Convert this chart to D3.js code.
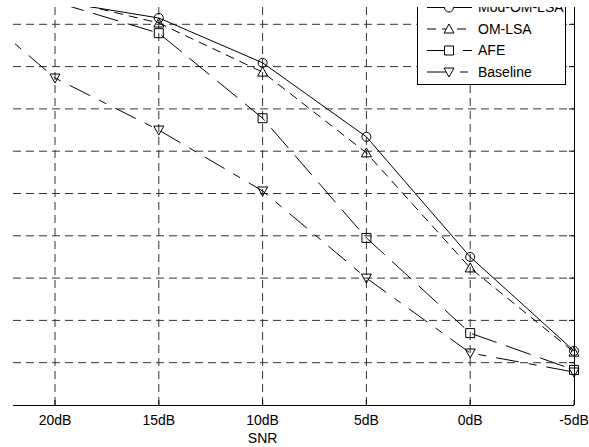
<!DOCTYPE html>
<html>
<head>
<meta charset="utf-8">
<script src="https://cdnjs.cloudflare.com/ajax/libs/d3/7.8.5/d3.min.js"></script>
<style>
  body { margin: 0; background: #fff; }
  text { font-family: "Liberation Sans", Arial, sans-serif; font-size: 14px; fill: #000; }
</style>
</head>
<body>
<div id="chart"></div>
<script>
(function() {
  // SNR categories (25dB sits just left of the visible frame)
  const snrLabels = ["25dB", "20dB", "15dB", "10dB", "5dB", "0dB", "-5dB"];
  const yTicks = [10, 20, 30, 40, 50, 60, 70, 80, 90, 100];

  const noSmLsa = [97.5, 95.5, 91.5, 80.9, 63.4, 35.0, 12.8];
  const omLsa = [97.8, 96.2, 90.3, 78.7, 59.6, 32.4, 12.5];
  const afe = [97.3, 95.3, 87.9, 67.8, 39.5, 17.0, 8.3];
  const baseline = [98.3, 77.3, 65.0, 50.6, 30.0, 12.3, 7.8];

  const seriesNames = ["Mod-OM-LSA", "OM-LSA", "AFE", "Baseline"];

  const width = 589, height = 447;
  const frame = { left: 13, right: 574, top: 7, bottom: 405 };

  const svg = d3.select("#chart").append("svg")
    .attr("width", width)
    .attr("height", height);

  svg.append("clipPath").attr("id", "cut")
    .append("rect")
    .attr("x", frame.left).attr("y", frame.top)
    .attr("width", width - frame.left).attr("height", height - frame.top);

  const g = svg.append("g").attr("clip-path", "url(#cut)");

  const x = d3.scalePoint().domain(snrLabels).range([-48.8, frame.right]);
  const y = d3.scaleLinear().domain([0, 100]).range([frame.bottom, -18]);

  // grid
  g.append("g").selectAll("line")
    .data(yTicks)
    .enter().append("line")
    .attr("x1", frame.left).attr("x2", frame.right)
    .attr("y1", d => y(d)).attr("y2", d => y(d))
    .attr("stroke", "#333").attr("stroke-width", 1)
    .attr("stroke-dasharray", "8,5");

  g.append("g").selectAll("line")
    .data(snrLabels.slice(0, -1))
    .enter().append("line")
    .attr("x1", d => x(d)).attr("x2", d => x(d))
    .attr("y1", frame.top).attr("y2", frame.bottom)
    .attr("stroke", "#333").attr("stroke-width", 1)
    .attr("stroke-dasharray", "8,5");

  // axes: bottom and right only
  g.append("line")
    .attr("x1", frame.left).attr("x2", frame.right)
    .attr("y1", frame.bottom + 0.5).attr("y2", frame.bottom + 0.5)
    .attr("stroke", "#000");
  g.append("line")
    .attr("x1", frame.right + 0.5).attr("x2", frame.right + 0.5)
    .attr("y1", frame.top).attr("y2", frame.bottom)
    .attr("stroke", "#000");

  g.append("g").selectAll("line")
    .data(yTicks)
    .enter().append("line")
    .attr("x1", frame.right - 5).attr("x2", frame.right)
    .attr("y1", d => y(d)).attr("y2", d => y(d))
    .attr("stroke", "#000");

  g.append("g").selectAll("line")
    .data(snrLabels)
    .enter().append("line")
    .attr("x1", d => x(d)).attr("x2", d => x(d))
    .attr("y1", frame.bottom - 5).attr("y2", frame.bottom)
    .attr("stroke", "#000");

  g.append("g").selectAll("text")
    .data(snrLabels.filter(d => x(d) > frame.left))
    .enter().append("text")
    .attr("x", d => x(d))
    .attr("y", 425)
    .attr("text-anchor", "middle")
    .text(d => d);

  g.append("text")
    .attr("x", x("10dB"))
    .attr("y", 443)
    .attr("text-anchor", "middle")
    .text("SNR");

  // series
  const circleMark = "M4.5,0A4.5,4.5,0,1,1,-4.5,0A4.5,4.5,0,1,1,4.5,0Z";
  const triUp = "M0,-5L5,4L-5,4Z";
  const square = "M-4.5,-4.5L4.5,-4.5L4.5,4.5L-4.5,4.5Z";
  const triDown = "M0,5L5,-4L-5,-4Z";

  const series = [
    { name: seriesNames[0], values: noSmLsa, dash: null, mark: circleMark },
    { name: seriesNames[1], values: omLsa, dash: "9,6", mark: triUp },
    { name: seriesNames[2], values: afe, dash: "26,10", mark: square },
    { name: seriesNames[3], values: baseline, dash: "23,10,8,10", mark: triDown }
  ];

  const line = d3.line()
    .x((d, i) => x(snrLabels[i]))
    .y(d => y(d));

  const sg = g.append("g").selectAll("g")
    .data(series)
    .enter().append("g");

  sg.append("path")
    .attr("d", d => line(d.values))
    .attr("fill", "none")
    .attr("stroke", "#000")
    .attr("stroke-width", 1)
    .attr("stroke-dasharray", d => d.dash);

  sg.each(function(s) {
    d3.select(this).selectAll(".mk")
      .data(s.values)
      .enter().append("path")
      .attr("class", "mk")
      .attr("transform", (d, i) => "translate(" + x(snrLabels[i]) + "," + y(d) + ")")
      .attr("d", s.mark)
      .attr("fill", "none")
      .attr("stroke", "#000");
  });

  // legend
  const lg = g.append("g").attr("transform", "translate(417,0)");
  lg.append("rect")
    .attr("x", 0.5).attr("y", -20)
    .attr("width", 148).attr("height", 104.5)
    .attr("fill", "#fff")
    .attr("stroke", "#000");

  const rows = lg.selectAll(".row")
    .data(series)
    .enter().append("g")
    .attr("class", "row")
    .attr("transform", (d, i) => "translate(0," + (7.5 + i * 21.5) + ")");

  rows.append("line")
    .attr("x1", 10).attr("x2", 55)
    .attr("stroke", "#000")
    .attr("stroke-dasharray", d => d.dash);
  rows.append("path")
    .attr("transform", "translate(32,0)")
    .attr("d", d => d.mark)
    .attr("fill", "#fff")
    .attr("stroke", "#000");
  rows.append("text")
    .attr("x", 61)
    .attr("dy", "0.35em")
    .text(d => d.name);
})();
</script>
</body>
</html>
